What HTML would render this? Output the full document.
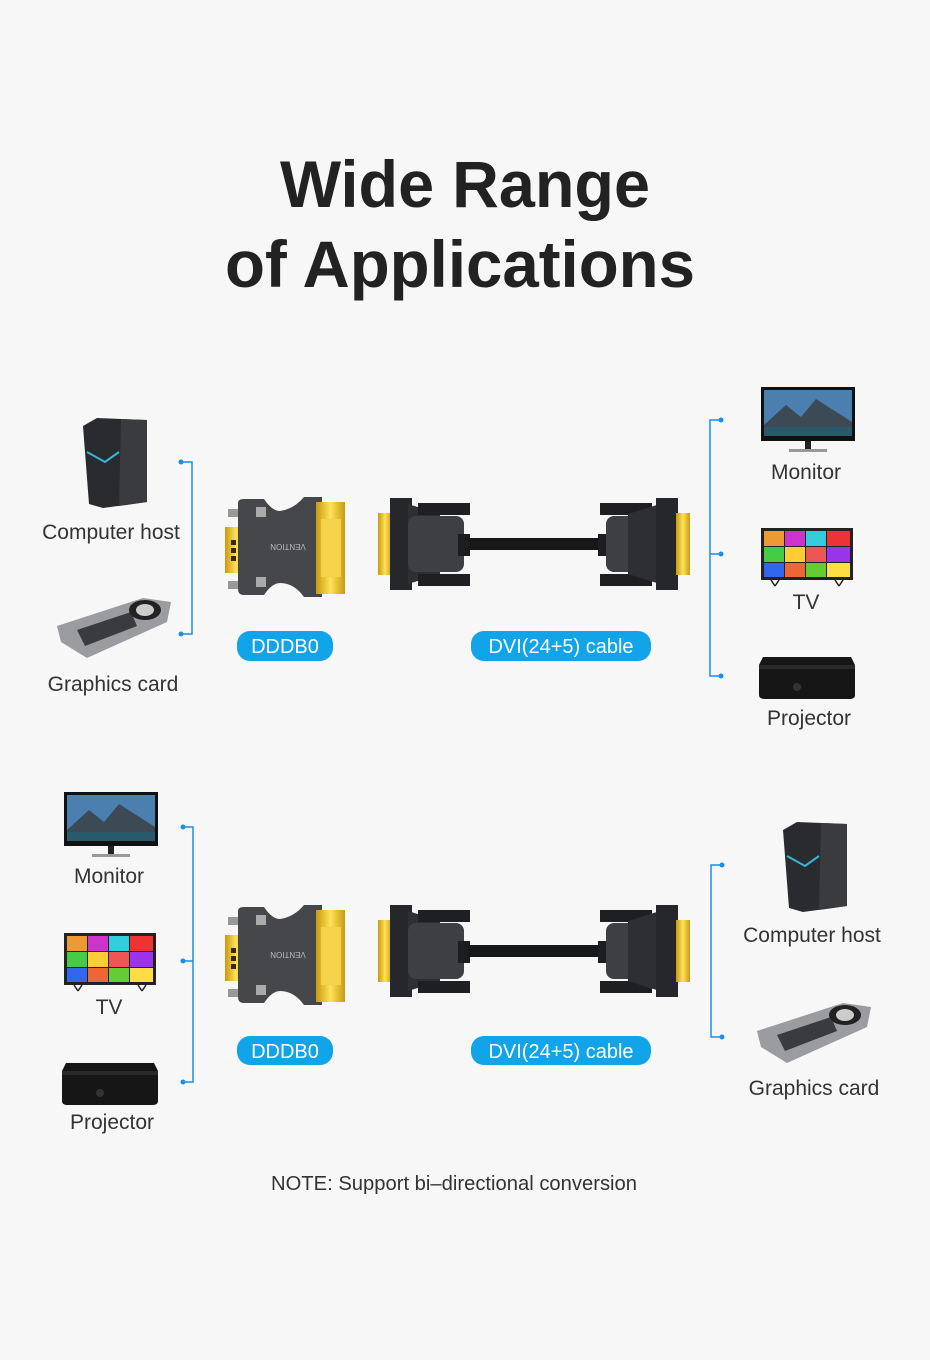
<!DOCTYPE html>
<html><head><meta charset="utf-8"><style>
html,body{margin:0;padding:0;background:#f7f7f8}
svg{display:block}
text{font-family:"Liberation Sans",sans-serif}
</style></head><body>
<svg width="930" height="1360" viewBox="0 0 930 1360" xmlns="http://www.w3.org/2000/svg">
<rect width="930" height="1360" fill="#f7f7f8"/>
<defs>
<linearGradient id="gold" x1="0" x2="1"><stop offset="0" stop-color="#c89a10"/><stop offset=".5" stop-color="#ffe25a"/><stop offset="1" stop-color="#c89a10"/></linearGradient>
<g id="adapter">
 <rect x="-3" y="30" width="22" height="46" fill="url(#gold)"/>
 <rect x="3" y="43" width="5" height="5" fill="#3a2a00"/><rect x="3" y="51" width="5" height="5" fill="#3a2a00"/><rect x="3" y="59" width="5" height="5" fill="#3a2a00"/>
 <rect x="0" y="12" width="20" height="8" fill="#999"/><rect x="0" y="84" width="20" height="8" fill="#999"/>
 <path d="M10 6 Q10 2 16 2 L36 2 Q44 14 52 14 Q66 12 76 0 L94 0 L94 100 L76 100 Q66 86 52 86 Q44 86 36 98 L16 98 Q10 98 10 92 Z" fill="#45474b"/>
 <rect x="28" y="10" width="10" height="10" fill="#aaa"/><rect x="28" y="80" width="10" height="10" fill="#aaa"/>
 <text x="60" y="53" font-size="8" fill="#bbb" text-anchor="middle" transform="rotate(180 60 50)">VENTION</text>
 <rect x="88" y="5" width="29" height="92" fill="url(#gold)"/>
 <rect x="93" y="22" width="20" height="58" fill="#f5d24a"/>
</g>
<g id="cable">
 <rect x="0" y="15" width="14" height="62" fill="url(#gold)"/>
 <rect x="12" y="0" width="22" height="92" fill="#26272a"/>
 <path d="M30 6 L62 16 L62 76 L30 86 Z" fill="#2e2f33"/>
 <rect x="30" y="18" width="56" height="56" rx="8" fill="#3d3f43"/>
 <rect x="40" y="5" width="52" height="12" fill="#1e1f22"/><rect x="40" y="76" width="52" height="12" fill="#1e1f22"/>
 <rect x="80" y="36" width="12" height="22" fill="#1c1d20"/>
 <rect x="90" y="40" width="132" height="12" fill="#17181a"/>
 <rect x="220" y="36" width="12" height="22" fill="#1c1d20"/>
 <rect x="222" y="5" width="52" height="12" fill="#1e1f22"/><rect x="222" y="76" width="52" height="12" fill="#1e1f22"/>
 <rect x="228" y="18" width="56" height="56" rx="8" fill="#3d3f43"/>
 <path d="M282 6 L250 16 L250 76 L282 86 Z" fill="#2e2f33"/>
 <rect x="278" y="0" width="22" height="92" fill="#26272a"/>
 <rect x="298" y="15" width="14" height="62" fill="url(#gold)"/>
</g>
<g id="pc">
 <path d="M0 8 L14 0 L64 2 L64 84 L20 90 L6 86 Z" fill="#2a2b2e"/>
 <path d="M38 1 L64 2 L64 84 L36 88 Z" fill="#3a3b3f"/>
 <path d="M4 34 L22 44 L36 34" stroke="#35b8d8" stroke-width="2" fill="none"/>
</g>
<g id="gpu">
 <path d="M0 34 L86 6 L114 10 L110 30 L30 66 L4 50 Z" fill="#9a9ca0"/>
 <path d="M20 38 L74 20 L80 34 L28 54 Z" fill="#3a3b3e"/>
 <ellipse cx="88" cy="18" rx="16" ry="10" fill="#222"/><ellipse cx="88" cy="18" rx="9" ry="6" fill="#ccc"/>
</g>
<g id="monitor">
 <rect x="0" y="0" width="94" height="54" fill="#111"/>
 <rect x="3" y="3" width="88" height="46" fill="#4a7fb0"/>
 <path d="M3 38 L25 18 L40 30 L55 12 L91 35 L91 49 L3 49 Z" fill="#3b4a55"/>
 <rect x="3" y="40" width="88" height="9" fill="#2a5a6a"/>
 <rect x="44" y="54" width="6" height="9" fill="#222"/><rect x="28" y="62" width="38" height="3" fill="#999"/>
</g>
<g id="tv">
 <rect x="0" y="0" width="92" height="52" fill="#222"/>
 <rect x="3" y="3" width="20" height="15" fill="#e93"/><rect x="24" y="3" width="20" height="15" fill="#c3c"/><rect x="45" y="3" width="20" height="15" fill="#3cd"/><rect x="66" y="3" width="23" height="15" fill="#e33"/>
 <rect x="3" y="19" width="20" height="15" fill="#4c4"/><rect x="24" y="19" width="20" height="15" fill="#fc3"/><rect x="45" y="19" width="20" height="15" fill="#e55"/><rect x="66" y="19" width="23" height="15" fill="#93e"/>
 <rect x="3" y="35" width="20" height="14" fill="#36e"/><rect x="24" y="35" width="20" height="14" fill="#e63"/><rect x="45" y="35" width="20" height="14" fill="#6c3"/><rect x="66" y="35" width="23" height="14" fill="#fd4"/>
 <path d="M10 52 L14 58 M18 52 L14 58 M74 52 L78 58 M82 52 L78 58" stroke="#222" stroke-width="1.5"/>
</g>
<g id="proj">
 <path d="M4 0 L92 0 L96 8 L96 38 Q96 42 90 42 L6 42 Q0 42 0 38 L0 8 Z" fill="#161617"/>
 <rect x="0" y="8" width="96" height="4" fill="#2a2a2c"/>
 <circle cx="38" cy="30" r="4" fill="#333"/>
</g>
</defs>

<text x="465" y="207" font-size="66" font-weight="bold" fill="#222" text-anchor="middle" textLength="370" lengthAdjust="spacingAndGlyphs">Wide Range</text>
<text x="460" y="287" font-size="66" font-weight="bold" fill="#222" text-anchor="middle" textLength="470" lengthAdjust="spacingAndGlyphs">of Applications</text>

<g stroke="#1a8fe8" stroke-width="1.5" fill="none">
 <path d="M181 462 H192 V634 H181"/>
 <path d="M721 420 H710 V676 H721 M710 554 H721"/>
 <path d="M183 827 H193 V1082 H183 M193 961 H183"/>
 <path d="M722 865 H711 V1037 H722"/>
</g>
<g fill="#1a8fe8">
 <circle cx="181" cy="462" r="2.5"/><circle cx="181" cy="634" r="2.5"/>
 <circle cx="721" cy="420" r="2.5"/><circle cx="721" cy="554" r="2.5"/><circle cx="721" cy="676" r="2.5"/>
 <circle cx="183" cy="827" r="2.5"/><circle cx="183" cy="961" r="2.5"/><circle cx="183" cy="1082" r="2.5"/>
 <circle cx="722" cy="865" r="2.5"/><circle cx="722" cy="1037" r="2.5"/>
</g>

<use href="#adapter" x="228" y="497"/>
<use href="#cable" x="378" y="498"/>
<use href="#adapter" x="228" y="905"/>
<use href="#cable" x="378" y="905"/>

<g fill="#12a4e8">
 <rect x="237" y="631" width="96" height="30" rx="13"/>
 <rect x="471" y="631" width="180" height="30" rx="13"/>
 <rect x="237" y="1036" width="96" height="29" rx="13"/>
 <rect x="471" y="1036" width="180" height="29" rx="13"/>
</g>
<g fill="#fff" font-size="20" text-anchor="middle">
 <text x="285" y="653">DDDB0</text><text x="561" y="653">DVI(24+5) cable</text>
 <text x="285" y="1058">DDDB0</text><text x="561" y="1058">DVI(24+5) cable</text>
</g>

<use href="#pc" x="83" y="418"/>
<use href="#gpu" x="57" y="592"/>
<use href="#monitor" x="761" y="387"/>
<use href="#tv" x="761" y="528"/>
<use href="#proj" x="759" y="657"/>
<use href="#monitor" x="64" y="792"/>
<use href="#tv" x="64" y="933"/>
<use href="#proj" x="62" y="1063"/>
<use href="#pc" x="783" y="822"/>
<use href="#gpu" x="757" y="997"/>

<g fill="#333" font-size="21" text-anchor="middle">
 <text x="111" y="539">Computer host</text>
 <text x="113" y="691">Graphics card</text>
 <text x="806" y="479">Monitor</text>
 <text x="806" y="609">TV</text>
 <text x="809" y="725">Projector</text>
 <text x="109" y="883">Monitor</text>
 <text x="109" y="1014">TV</text>
 <text x="112" y="1129">Projector</text>
 <text x="812" y="942">Computer host</text>
 <text x="814" y="1095">Graphics card</text>
</g>
<text x="454" y="1190" font-size="20" fill="#333" text-anchor="middle" textLength="366" lengthAdjust="spacingAndGlyphs">NOTE: Support bi–directional conversion</text>
</svg>
</body></html>
